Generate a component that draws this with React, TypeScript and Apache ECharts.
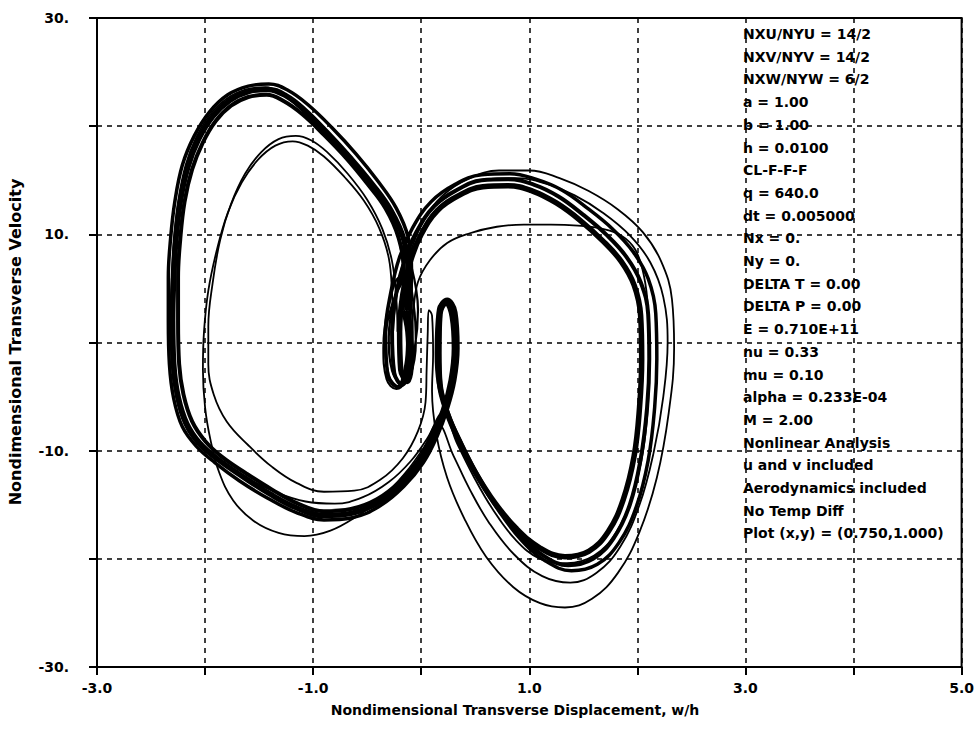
import React, { useEffect, useRef } from 'react';
import * as echarts from 'echarts';

const xTicks = [-3, -1, 1, 3, 5];
const xTickLabels = ['-3.0', '-1.0', '1.0', '3.0', '5.0'];
const yTicks = [30, 10, -10, -30];
const yTickLabels = ['30.', '10.', '-10.', '-30.'];
const xTitle = 'Nondimensional Transverse Displacement, w/h';
const yTitle = 'Nondimensional Transverse Velocity';

const paramLines = [
  'NXU/NYU = 14/2',
  'NXV/NYV = 14/2',
  'NXW/NYW = 6/2',
  'a = 1.00',
  'b = 1.00',
  'h = 0.0100',
  'CL-F-F-F',
  'q = 640.0',
  'dt = 0.005000',
  'Nx = 0.',
  'Ny = 0.',
  'DELTA T = 0.00',
  'DELTA P = 0.00',
  'E = 0.710E+11',
  'nu = 0.33',
  'mu = 0.10',
  'alpha = 0.233E-04',
  'M = 2.00',
  'Nonlinear Analysis',
  'u and v included',
  'Aerodynamics included',
  'No Temp Diff',
  'Plot (x,y) = (0.750,1.000)',
];

// main attractor band, cycle A
const cycleA: number[][] = [
  [-0.13, 3], [-0.12, 6.5], [-0.16, 9.5], [-0.28, 12.2], [-0.45, 14.6], [-0.65, 17.0], [-0.87, 19.4],
  [-1.08, 21.5], [-1.25, 22.8], [-1.42, 23.4], [-1.6, 23.2], [-1.77, 22.4], [-1.93, 20.9], [-2.06, 18.8],
  [-2.16, 16.2], [-2.23, 13], [-2.27, 9.5], [-2.29, 6], [-2.3, 2], [-2.29, -2], [-2.25, -5], [-2.17, -7.5],
  [-2.05, -9.3], [-1.88, -10.8], [-1.65, -12.4], [-1.4, -14], [-1.15, -15.3], [-0.9, -16], [-0.65, -15.8],
  [-0.4, -14.8], [-0.18, -13.1], [0.0, -11.0], [0.13, -8.6], [0.22, -6.2], [0.29, -3.5], [0.32, -0.5],
  [0.3, 2.5], [0.23, 3.8], [0.17, 2.8], [0.16, -1], [0.17, -3.8], [0.24, -6.5], [0.36, -9.3], [0.5, -12],
  [0.68, -14.8], [0.88, -17.2], [1.1, -19], [1.33, -19.8], [1.55, -19.3], [1.73, -17.5], [1.87, -14.5],
  [1.97, -10.5], [2.02, -6], [2.04, -1.5], [2.03, 2.5], [1.97, 5.3], [1.85, 7.5], [1.68, 9.4], [1.47, 11.3],
  [1.25, 12.9], [1.03, 14], [0.8, 14.5], [0.57, 14.4], [0.35, 13.6], [0.15, 12.2], [0.0, 10.0], [-0.1, 7.5],
  [-0.17, 4.5], [-0.2, 1], [-0.19, -2.5], [-0.13, -3.6], [-0.09, -1.5], [-0.1, 1], [-0.13, 3],
];

const cycleB: number[][] = [
  [-0.17, 3], [-0.16, 6.5], [-0.21, 9.7], [-0.33, 12.4], [-0.5, 14.7], [-0.69, 17.0], [-0.9, 19.2],
  [-1.1, 21.1], [-1.27, 22.3], [-1.43, 22.9], [-1.6, 22.7], [-1.76, 21.9], [-1.9, 20.5], [-2.02, 18.5],
  [-2.12, 16.0], [-2.19, 13], [-2.23, 9.5], [-2.25, 6], [-2.25, 2], [-2.24, -2], [-2.2, -4.8], [-2.12, -7.3],
  [-2.0, -9.1], [-1.84, -10.6], [-1.62, -12.1], [-1.38, -13.6], [-1.14, -14.9], [-0.9, -15.6], [-0.65, -15.4],
  [-0.41, -14.5], [-0.2, -12.9], [-0.03, -10.9], [0.1, -8.6], [0.2, -6.2], [0.27, -3.5], [0.3, -0.5],
  [0.28, 2.4], [0.23, 3.6], [0.18, 2.6], [0.17, -1], [0.18, -3.8], [0.25, -6.6], [0.38, -9.5], [0.53, -12.4],
  [0.71, -15.3], [0.91, -17.8], [1.13, -19.7], [1.36, -20.6], [1.59, -20.0], [1.78, -18.1], [1.93, -15],
  [2.03, -10.8], [2.09, -6], [2.11, -1.5], [2.1, 2.6], [2.03, 5.6], [1.9, 7.9], [1.72, 9.9], [1.5, 11.8],
  [1.27, 13.5], [1.04, 14.6], [0.8, 15.1], [0.56, 15.0], [0.33, 14.1], [0.12, 12.6], [-0.04, 10.3],
  [-0.15, 7.7], [-0.23, 4.6], [-0.27, 1], [-0.25, -2.8], [-0.18, -3.9], [-0.12, -1.5], [-0.13, 1], [-0.17, 3],
];

const cycleC: number[][] = [
  [-0.1, 3], [-0.09, 6.8], [-0.12, 9.7], [-0.23, 12.4], [-0.4, 14.9], [-0.6, 17.4], [-0.83, 19.9],
  [-1.05, 22], [-1.23, 23.3], [-1.41, 23.9], [-1.6, 23.7], [-1.79, 22.9], [-1.96, 21.3], [-2.1, 19.1],
  [-2.21, 16.4], [-2.28, 13], [-2.32, 9.5], [-2.34, 6], [-2.34, 2], [-2.33, -2], [-2.29, -5.2], [-2.21, -7.8],
  [-2.08, -9.6], [-1.91, -11.1], [-1.68, -12.8], [-1.42, -14.4], [-1.16, -15.7], [-0.9, -16.4], [-0.64, -16.2],
  [-0.38, -15.1], [-0.16, -13.3], [0.02, -11.1], [0.15, -8.6], [0.24, -6.2], [0.31, -3.5], [0.34, -0.5],
  [0.32, 2.8], [0.24, 4.0], [0.16, 3], [0.14, -1], [0.16, -3.8], [0.24, -6.5], [0.37, -9.6], [0.53, -12.6],
  [0.72, -15.6], [0.93, -18.3], [1.15, -20.2], [1.39, -21.1], [1.63, -20.5], [1.83, -18.5], [1.99, -15.2],
  [2.1, -10.9], [2.16, -6], [2.18, -1.5], [2.17, 2.7], [2.1, 5.9], [1.96, 8.4], [1.77, 10.5], [1.54, 12.4],
  [1.3, 14.1], [1.06, 15.1], [0.82, 15.6], [0.56, 15.5], [0.31, 14.6], [0.09, 13.0], [-0.08, 10.6],
  [-0.2, 7.9], [-0.28, 4.7], [-0.33, 1], [-0.31, -3], [-0.22, -4.1], [-0.14, -2], [-0.12, 1], [-0.1, 3],
];

// inner left loop + outermost right loop
const cycleD: number[][] = [
  [-0.22, 1], [-0.23, 4], [-0.27, 7.5], [-0.36, 10.5], [-0.5, 13.2], [-0.68, 15.6], [-0.87, 17.6],
  [-1.02, 18.7], [-1.16, 19.1], [-1.32, 18.8], [-1.48, 17.6], [-1.63, 15.6], [-1.76, 12.8], [-1.86, 9.5],
  [-1.93, 5.5], [-1.97, 1.5], [-1.97, -2], [-1.92, -4.8], [-1.8, -7.3], [-1.6, -9.5], [-1.38, -11.5],
  [-1.15, -13.0], [-0.9, -13.8], [-0.62, -13.7], [-0.38, -12.7], [-0.17, -10.7], [-0.03, -8.2],
  [0.04, -5.5], [0.05, -2.5], [0.06, 0.8], [0.07, 3.0], [0.1, 2.5], [0.11, -1], [0.1, -4.5], [0.14, -8.5],
  [0.24, -12.5], [0.4, -16.3], [0.6, -19.8], [0.85, -22.6], [1.1, -24.1], [1.33, -24.5], [1.58, -23.7],
  [1.82, -21.3], [2.02, -17.5], [2.18, -12.5], [2.29, -6.5], [2.34, -0.5], [2.32, 4], [2.22, 7.5],
  [2.05, 10.2], [1.82, 12.3], [1.55, 14], [1.28, 15.2], [1.0, 15.9], [0.72, 15.9], [0.45, 15.2],
  [0.2, 13.6], [0.02, 11.2], [-0.1, 8.3], [-0.17, 4.8], [-0.2, 1],
];

// second inner left loop + lowest left bottom + second outer right loop
const cycleE: number[][] = [
  [-0.26, 1], [-0.27, 4.5], [-0.3, 7.8], [-0.39, 10.6], [-0.53, 13.1], [-0.71, 15.3], [-0.9, 17.2],
  [-1.05, 18.2], [-1.19, 18.6], [-1.35, 18.2], [-1.51, 16.9], [-1.66, 14.8], [-1.79, 12], [-1.89, 8.6],
  [-1.97, 4.8], [-2.01, 1], [-2.02, -2.5], [-2.0, -6], [-1.95, -9], [-1.87, -12], [-1.74, -14.6],
  [-1.55, -16.5], [-1.32, -17.6], [-1.08, -17.9], [-0.84, -17.4], [-0.6, -16.1], [-0.37, -14.4],
  [-0.15, -12.1], [0.03, -9.6], [0.15, -7.5], [0.3, -10.5], [0.45, -13.6], [0.63, -16.7], [0.86, -19.6],
  [1.12, -21.6], [1.38, -22.2], [1.62, -21.3], [1.84, -18.9], [2.02, -15], [2.15, -10.2], [2.24, -5],
  [2.28, 0], [2.24, 4.2], [2.12, 7.4], [1.93, 9.9], [1.68, 12], [1.42, 13.6], [1.15, 14.7], [0.87, 15.2],
  [0.6, 15.1], [0.35, 14.2], [0.13, 12.6], [-0.05, 10.2], [-0.17, 7.3], [-0.23, 4.2], [-0.26, 1],
];

// band variant whose right loop cuts back across at y ~ 10
const cycleF: number[][] = [
  [-0.1, 0], [-0.14, 3.5], [-0.17, 7], [-0.22, 10], [-0.33, 12.4], [-0.5, 14.8], [-0.7, 17.2],
  [-0.92, 19.6], [-1.12, 21.6], [-1.28, 22.9], [-1.44, 23.6], [-1.62, 23.4], [-1.79, 22.6], [-1.95, 21.1],
  [-2.08, 19], [-2.18, 16.4], [-2.25, 13], [-2.29, 9.5], [-2.31, 6], [-2.32, 2], [-2.31, -2], [-2.27, -5],
  [-2.19, -7.6], [-2.06, -9.5], [-1.86, -11.1], [-1.6, -12.6], [-1.33, -13.9], [-1.07, -14.7],
  [-0.8, -14.9], [-0.54, -14.3], [-0.3, -12.9], [-0.1, -11], [0.06, -8.8], [0.2, -6.5], [0.33, -9.3],
  [0.48, -12.3], [0.66, -15.4], [0.87, -18.2], [1.1, -20], [1.35, -20.4], [1.6, -19.7], [1.8, -17.6],
  [1.95, -14.3], [2.05, -10.2], [2.1, -5.5], [2.11, -1], [2.1, 3], [2.06, 6.2], [1.98, 8.6], [1.85, 9.9],
  [1.68, 10.5], [1.45, 10.8], [1.2, 10.9], [0.95, 10.9], [0.7, 10.7], [0.45, 10.1], [0.24, 9.2],
  [0.08, 7.6], [-0.03, 5.6], [-0.07, 3.2], [-0.1, 0],
];

// tight spiral loops near the origin
const centreLoops: number[][] = [
  [-0.15, 6], [-0.27, 3.5], [-0.33, 0], [-0.3, -3], [-0.2, -4.1], [-0.1, -3], [-0.05, 0],
  [-0.07, 3.5], [-0.14, 6.5], [-0.24, 4], [-0.3, 0.5], [-0.27, -2.6], [-0.19, -3.7], [-0.12, -2.2],
  [-0.08, 1], [-0.11, 4.5], [-0.2, 6], [-0.31, 3], [-0.35, -0.5], [-0.32, -3.4], [-0.23, -4.3],
  [-0.14, -3.4], [-0.06, -0.5], [-0.03, 3], [-0.09, 7],
];

export default function App() {
  const ref = useRef<HTMLDivElement>(null);

  useEffect(() => {
    if (!ref.current) return;
    const chart = echarts.init(ref.current, undefined, { renderer: 'svg' });
    const font = "'DejaVu Sans', 'Liberation Sans', Arial, sans-serif";

    const traces = [
      { name: 'D', data: cycleD, w: 1.8 },
      { name: 'E', data: cycleE, w: 1.8 },
      { name: 'F', data: cycleF, w: 1.8 },
      { name: 'C', data: cycleC, w: 3.5 },
      { name: 'B', data: cycleB, w: 4 },
      { name: 'A', data: cycleA, w: 5.5 },
      { name: 'centre', data: centreLoops, w: 2.2 },
    ];

    const lineStep = 22.7;
    const paramTexts = paramLines.map((t, i) => ({
      type: 'text',
      left: 743,
      top: 27 + i * lineStep,
      z: 10,
      style: {
        text: t,
        fill: '#000',
        font: `bold 14px ${font}`,
      },
    }));

    chart.setOption({
      animation: false,
      backgroundColor: '#fff',
      grid: {
        left: 97,
        right: 15,
        top: 18,
        bottom: 62,
        show: true,
        borderColor: '#000',
        borderWidth: 2,
        backgroundColor: 'transparent',
      },
      xAxis: {
        type: 'value',
        min: -3,
        max: 5,
        interval: 1,
        axisLine: { show: true, onZero: false, lineStyle: { color: '#000', width: 2 } },
        axisTick: { show: true, length: 8, lineStyle: { color: '#000', width: 2 } },
        axisLabel: {
          margin: 14,
          color: '#000',
          fontFamily: font,
          fontWeight: 'bold',
          fontSize: 14,
          formatter: (v: number) => {
            const i = xTicks.indexOf(Math.round(v));
            return i >= 0 ? xTickLabels[i] : '';
          },
        },
        splitLine: { show: true, lineStyle: { color: '#000', width: 1.5, type: [5, 5] } },
      },
      yAxis: {
        type: 'value',
        min: -30,
        max: 30,
        interval: 10,
        axisLine: { show: true, onZero: false, lineStyle: { color: '#000', width: 2 } },
        axisTick: { show: true, length: 8, lineStyle: { color: '#000', width: 2 } },
        axisLabel: {
          margin: 28,
          color: '#000',
          fontFamily: font,
          fontWeight: 'bold',
          fontSize: 14,
          formatter: (v: number) => {
            const i = yTicks.indexOf(Math.round(v));
            return i >= 0 ? yTickLabels[i] : '';
          },
        },
        splitLine: { show: true, lineStyle: { color: '#000', width: 1.5, type: [5, 5] } },
      },
      series: traces.map((t) => ({
        type: 'line',
        name: t.name,
        data: t.data,
        showSymbol: false,
        symbol: 'none',
        smooth: 0.4,
        lineStyle: { color: '#000', width: t.w },
        z: 3,
      })),
      graphic: [
        {
          type: 'text',
          x: 515,
          y: 710,
          style: {
            text: xTitle,
            fill: '#000',
            font: `bold 14px ${font}`,
            textAlign: 'center',
            textVerticalAlign: 'middle',
          },
        },
        {
          type: 'text',
          x: 15,
          y: 342,
          rotation: Math.PI / 2,
          style: {
            text: yTitle,
            fill: '#000',
            font: `bold 16px ${font}`,
            textAlign: 'center',
            textVerticalAlign: 'middle',
          },
        },
        ...paramTexts,
      ],
    });

    return () => chart.dispose();
  }, []);

  return (
    <div
      ref={ref}
      style={{ position: 'fixed', left: 0, top: 0, width: 977, height: 729, background: '#fff' }}
    />
  );
}
